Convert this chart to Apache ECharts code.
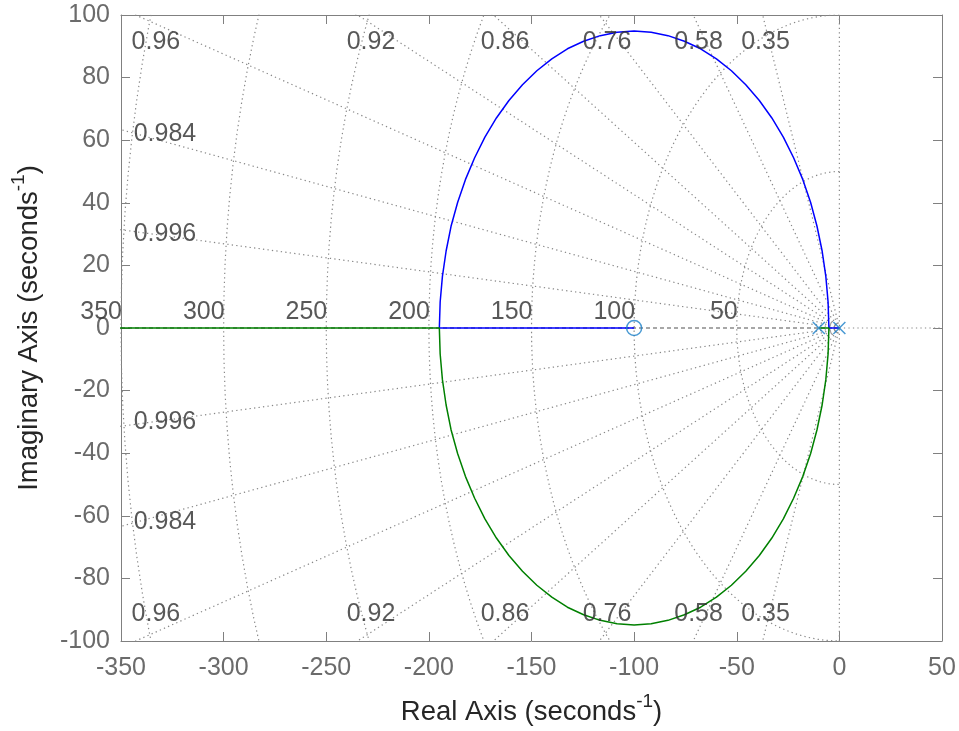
<!DOCTYPE html>
<html>
<head>
<meta charset="utf-8">
<script src="https://cdn.jsdelivr.net/npm/echarts@6/dist/echarts.min.js"></script>
<style>html,body{margin:0;padding:0;background:#fff}#c{width:959px;height:731px}</style>
</head>
<body>
<div id="c"></div>
<script>
// ---- data ----
var poles = [[0, 0], [-10, 0]];
var zeros = [[-100, 0]];
// branch 1 (blue): pole 0 -> breakaway -> upper arc -> break-in -> zero -100
var branchBlue = [[0,0],[-5.1,0],[-5.5,8.3],[-6.6,16.5],[-8.4,24.6],[-10.9,32.5],[-14.0,40.1],[-17.8,47.4],[-22.3,54.4],[-27.3,61.0],[-32.9,67.1],[-39.0,72.7],[-45.6,77.7],[-52.6,82.2],[-59.9,86.0],[-67.6,89.2],[-75.5,91.6],[-83.5,93.4],[-91.7,94.5],[-100,94.9],[-108.3,94.5],[-116.5,93.4],[-124.6,91.6],[-132.5,89.2],[-140.1,86.0],[-147.4,82.2],[-154.4,77.7],[-161.0,72.7],[-167.1,67.1],[-172.7,61.0],[-177.7,54.4],[-182.2,47.4],[-186.0,40.1],[-189.2,32.5],[-191.6,24.6],[-193.4,16.5],[-194.5,8.3],[-194.9,0],[-100,0]];
// branch 2 (green): pole -10 -> breakaway -> lower arc -> break-in -> -infinity
var branchGreen = [[-10,0],[-5.1,0],[-5.5,-8.3],[-6.6,-16.5],[-8.4,-24.6],[-10.9,-32.5],[-14.0,-40.1],[-17.8,-47.4],[-22.3,-54.4],[-27.3,-61.0],[-32.9,-67.1],[-39.0,-72.7],[-45.6,-77.7],[-52.6,-82.2],[-59.9,-86.0],[-67.6,-89.2],[-75.5,-91.6],[-83.5,-93.4],[-91.7,-94.5],[-100,-94.9],[-108.3,-94.5],[-116.5,-93.4],[-124.6,-91.6],[-132.5,-89.2],[-140.1,-86.0],[-147.4,-82.2],[-154.4,-77.7],[-161.0,-72.7],[-167.1,-67.1],[-172.7,-61.0],[-177.7,-54.4],[-182.2,-47.4],[-186.0,-40.1],[-189.2,-32.5],[-191.6,-24.6],[-193.4,-16.5],[-194.5,-8.3],[-194.9,0],[-400,0]];
// s-plane grid values
var zetaValues = [0.35, 0.58, 0.76, 0.86, 0.92, 0.96, 0.984, 0.996];
var wnValues = [50, 100, 150, 200, 250, 300, 350];
// where the grid labels sit
var zetaLabelText = ['0.35', '0.58', '0.76', '0.86', '0.92', '0.96', '0.984', '0.996'];
var zetaLabelX = [-36.0, -68.6, -113.2, -162.9, -228.2, -333.0, -328.6, -328.6];
var zetaLabelY = [91.4, 91.4, 91.4, 91.4, 91.4, 91.4, 62.0, 30.0];
// axes
var xMin = -350, xMax = 50, xStep = 50;
var yMin = -100, yMax = 100, yStep = 20;

// ---- build ----
var gridColor = '#888888';
var dotted = [1.3, 3.2];
var series = [];
function gridLine(pts, color, type) {
  series.push({type: 'line', data: pts, symbol: 'none', silent: true, clip: true,
    lineStyle: {color: color || gridColor, width: 1.2, type: type || dotted}, z: 1});
}
zetaValues.forEach(function (z) {
  var R = 1000, s = Math.sqrt(1 - z * z);
  gridLine([[0, 0], [-R * z, R * s]]);
  gridLine([[0, 0], [-R * z, -R * s]]);
});
wnValues.forEach(function (w) {
  var pts = [];
  for (var a = 90; a <= 270; a += 2) {
    var t = a * Math.PI / 180;
    pts.push([w * Math.cos(t), w * Math.sin(t)]);
  }
  gridLine(pts);
});
gridLine([[0, yMin], [0, yMax]]);
gridLine([[0, 0], [xMax, 0]]);
gridLine([[xMin, 0], [0, 0]], '#505050', [4, 3]);

series.push({type: 'line', data: branchBlue, symbol: 'none', clip: true, z: 3,
  lineStyle: {color: '#0000ff', width: 1.5}});
series.push({type: 'line', data: branchGreen, symbol: 'none', clip: true, z: 3,
  lineStyle: {color: '#008000', width: 1.5}});
series.push({type: 'scatter', data: poles, z: 4, symbol: 'path://M0,0L10,10M10,0L0,10', symbolSize: 12,
  itemStyle: {color: 'none', borderColor: '#1a7fc8', borderWidth: 1.5}});
series.push({type: 'scatter', data: zeros, z: 4, symbol: 'circle', symbolSize: 15,
  itemStyle: {color: 'none', borderColor: '#1a7fc8', borderWidth: 1.5}});

var txt = {color: '#2e2e2e', fontSize: 25, fontFamily: 'Liberation Sans, Arial, sans-serif'};
var zl = [];
zetaLabelText.forEach(function (t, i) {
  zl.push({value: [zetaLabelX[i], zetaLabelY[i]], name: t});
  zl.push({value: [zetaLabelX[i], -zetaLabelY[i]], name: t});
});
series.push({type: 'scatter', data: zl, symbolSize: 0, silent: true, z: 5,
  label: Object.assign({show: true, formatter: '{b}', position: [0, 0], align: 'center', verticalAlign: 'middle'}, txt)});
series.push({type: 'scatter', data: wnValues.map(function (w) { return {value: [-w, 0], name: String(w)}; }),
  symbolSize: 0, silent: true, z: 5,
  label: Object.assign({show: true, formatter: '{b}', position: [0, 0], align: 'right', verticalAlign: 'bottom', offset: [1, -3]}, txt)});

var axisGray = '#808080';
var font = 'Liberation Sans, Arial, sans-serif';
var tickText = {color: '#6b6b6b', fontSize: 25, fontFamily: font};
var nameStyle = {color: '#262626', fontSize: 27.5, fontFamily: font, lineHeight: 40,
  rich: {sup: {fontSize: 19, lineHeight: 24, verticalAlign: 'top', color: '#262626', fontFamily: font}}};

var chart = echarts.init(document.getElementById('c'));
chart.setOption({
  animation: false,
  grid: {left: 121, right: 17, top: 15, bottom: 90, containLabel: false, outerBoundsMode: 'none'},
  xAxis: [
    {type: 'value', min: xMin, max: xMax, interval: xStep, position: 'bottom',
      name: 'Real Axis (seconds{sup|-1})', nameLocation: 'middle', nameGap: 51, nameTextStyle: nameStyle,
      axisLine: {onZero: false, lineStyle: {color: axisGray, width: 1}},
      axisTick: {inside: true, length: 9, lineStyle: {color: axisGray}},
      axisLabel: Object.assign({margin: 15}, tickText), splitLine: {show: false}},
    {type: 'value', min: xMin, max: xMax, interval: xStep, position: 'top',
      axisLine: {onZero: false, lineStyle: {color: axisGray, width: 1}},
      axisTick: {inside: true, length: 9, lineStyle: {color: axisGray}},
      axisLabel: {show: false}, splitLine: {show: false}}
  ],
  yAxis: [
    {type: 'value', min: yMin, max: yMax, interval: yStep, position: 'left',
      name: 'Imaginary Axis (seconds{sup|-1})', nameLocation: 'middle', nameGap: 66, nameRotate: 90, nameTextStyle: nameStyle,
      axisLine: {onZero: false, lineStyle: {color: axisGray, width: 1}},
      axisTick: {inside: true, length: 9, lineStyle: {color: axisGray}},
      axisLabel: Object.assign({margin: 11}, tickText), splitLine: {show: false}},
    {type: 'value', min: yMin, max: yMax, interval: yStep, position: 'right',
      axisLine: {onZero: false, lineStyle: {color: axisGray, width: 1}},
      axisTick: {inside: true, length: 9, lineStyle: {color: axisGray}},
      axisLabel: {show: false}, splitLine: {show: false}}
  ],
  series: series
});
</script>
</body>
</html>
